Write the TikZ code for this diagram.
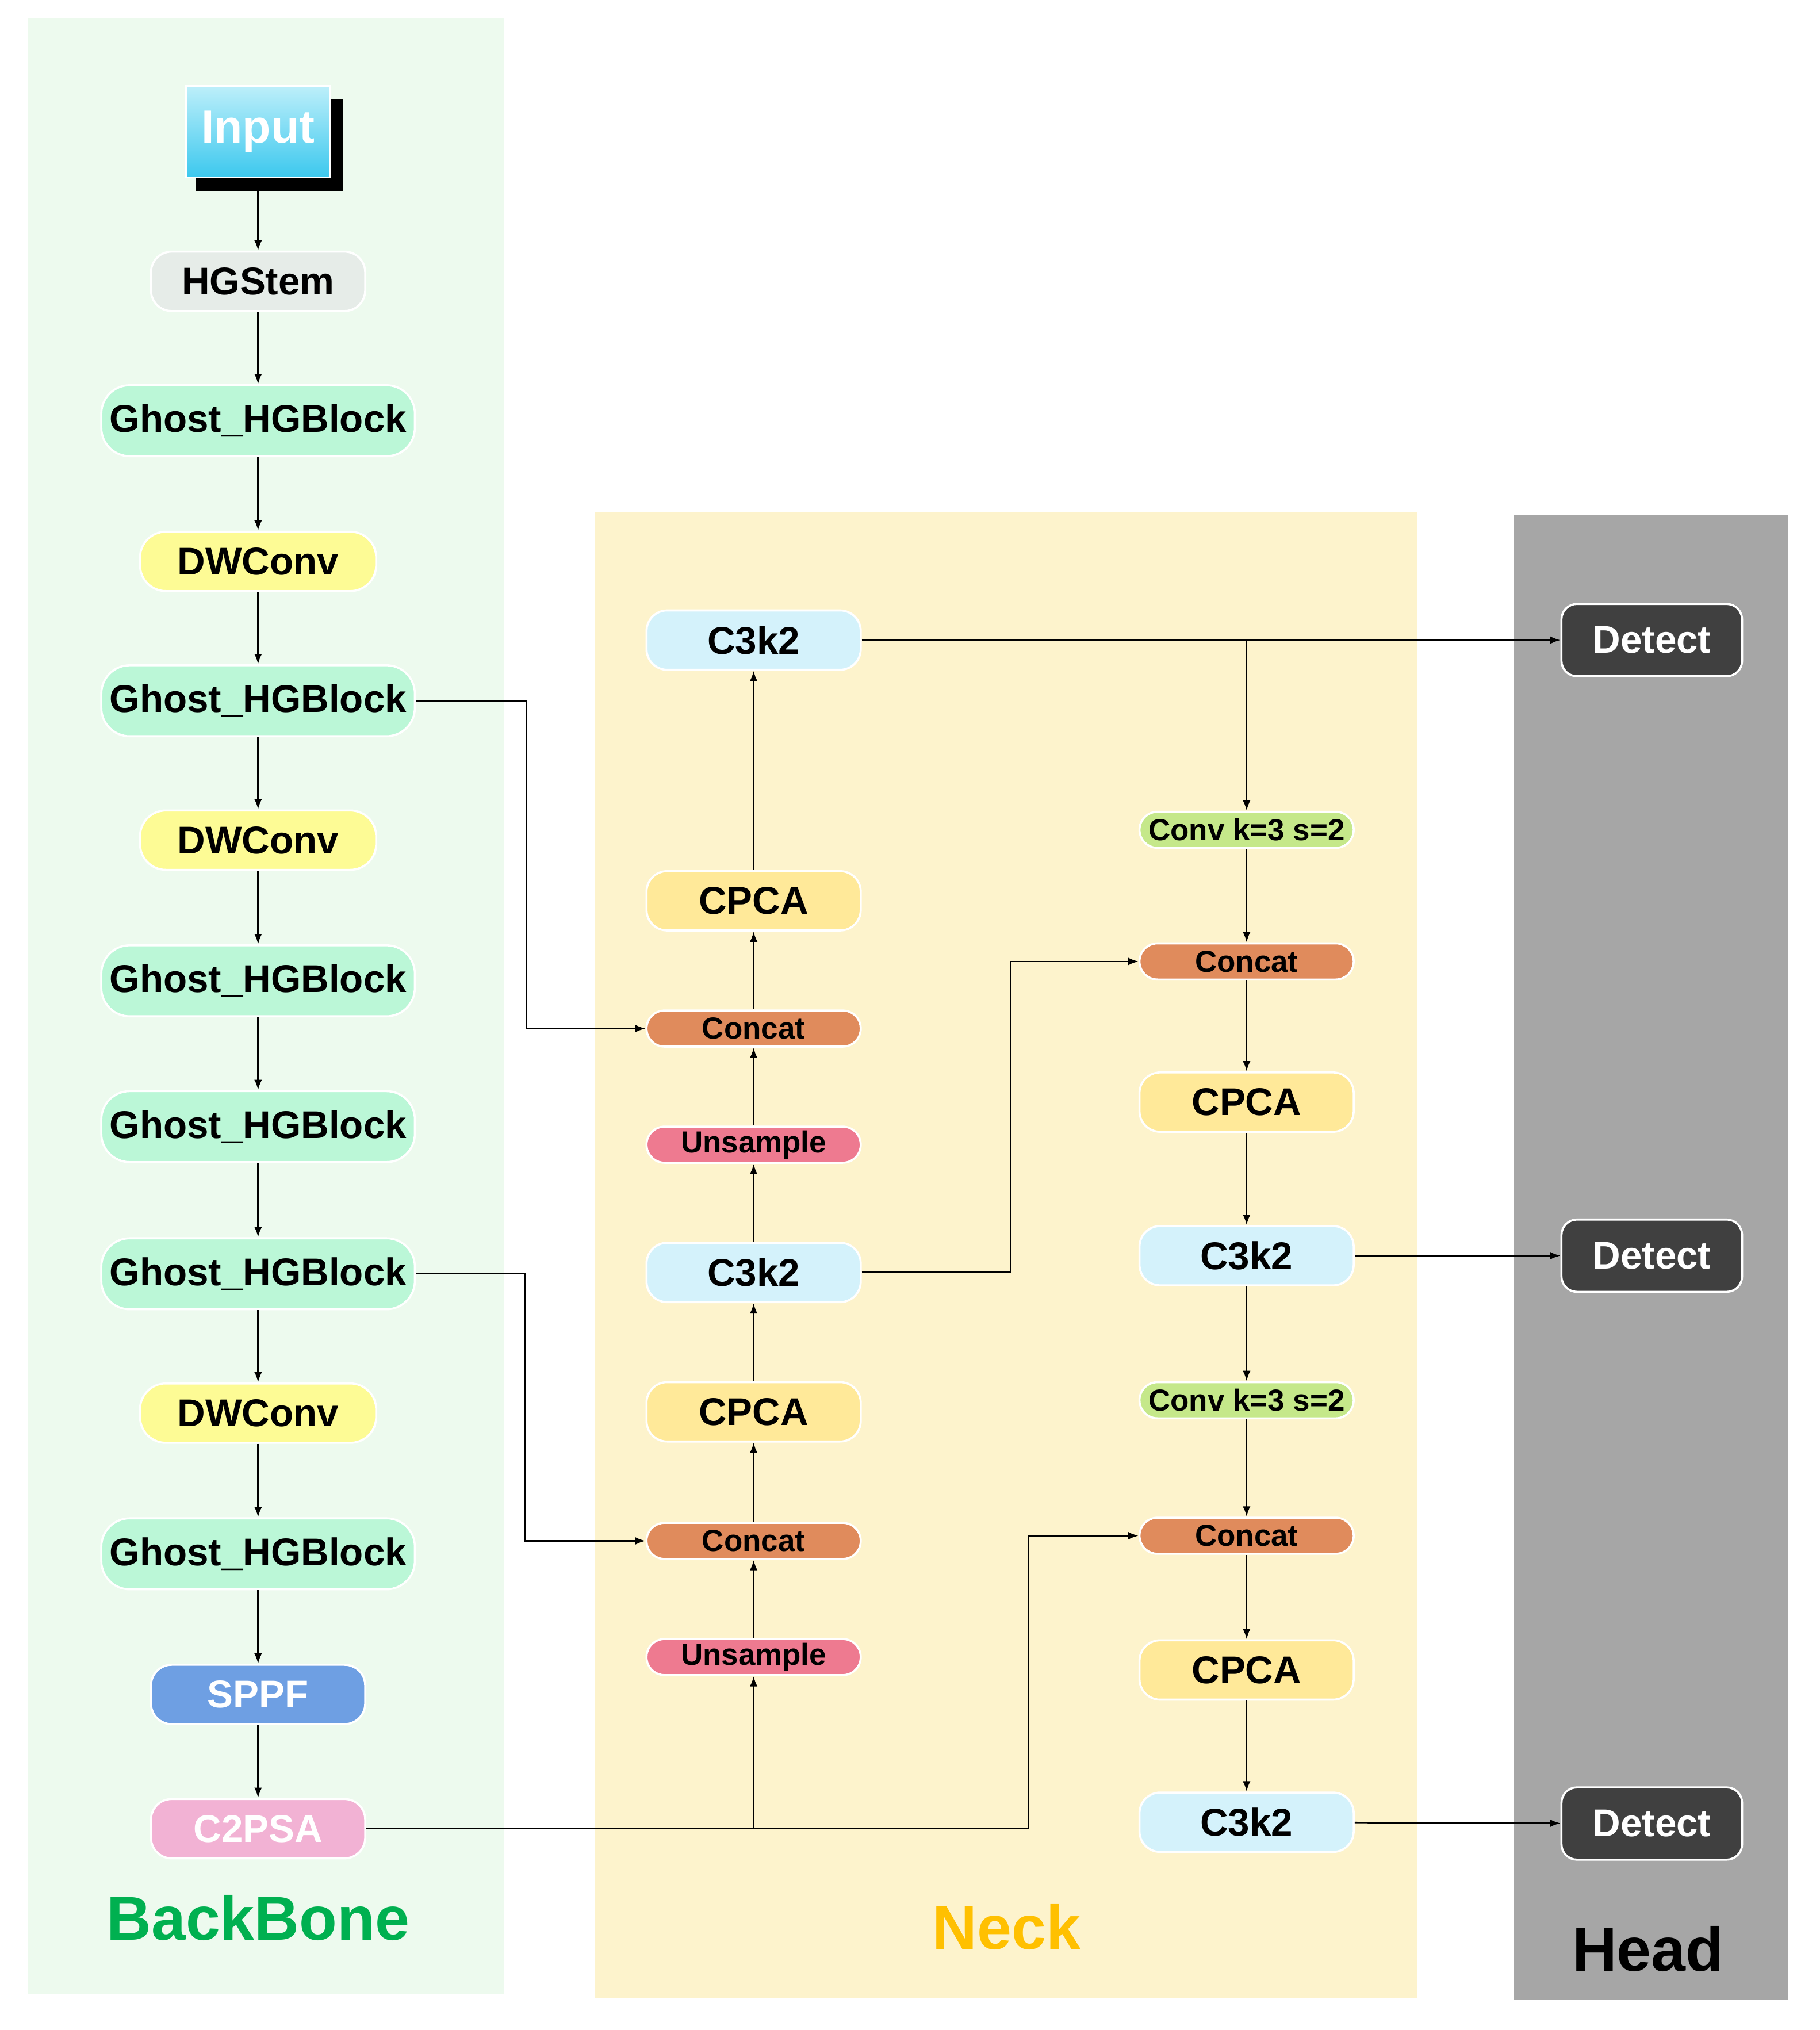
\documentclass[tikz,border=0pt]{standalone}
\usepackage{fontspec}
\setmainfont{Liberation Sans}
\usetikzlibrary{arrows.meta}
\definecolor{bbg}{HTML}{EDFAEE}
\definecolor{nbg}{HTML}{FDF3CC}
\definecolor{hbg}{HTML}{A6A6A6}
\definecolor{cstem}{HTML}{E6ECE8}
\definecolor{cghost}{HTML}{BBF7D7}
\definecolor{cdw}{HTML}{FDFB95}
\definecolor{csppf}{HTML}{6E9FE3}
\definecolor{cpsa}{HTML}{F2B2D4}
\definecolor{cc3}{HTML}{D4F2FB}
\definecolor{ccpca}{HTML}{FFE999}
\definecolor{ccat}{HTML}{E08B5C}
\definecolor{cups}{HTML}{EE7A90}
\definecolor{cconv}{HTML}{C5E88A}
\definecolor{cdet}{HTML}{404040}
\definecolor{cin1}{HTML}{BDEFFA}
\definecolor{cin2}{HTML}{3CC8EE}
\begin{document}
\begin{tikzpicture}[x=0.5pt,y=-0.5pt,
  blk/.style={draw=white,line width=0.8pt,font=\bfseries\fontsize{15}{15}\selectfont,
    inner sep=0pt,rounded corners=8pt},
  big/.style={blk,minimum width=83pt,minimum height=23pt},
  small/.style={blk,minimum width=83pt,minimum height=14pt,rounded corners=7pt,
    font=\bfseries\fontsize{11.8}{12}\selectfont},
  ghost/.style={blk,fill=cghost,minimum width=121.5pt,minimum height=27.5pt,rounded corners=11pt},
  dw/.style={blk,fill=cdw,minimum width=91.5pt,minimum height=23pt,rounded corners=10pt},
  c3/.style={big,fill=cc3},
  cpca/.style={big,fill=ccpca},
  cat/.style={small,fill=ccat},
  ups/.style={small,fill=cups},
  conv/.style={small,fill=cconv},
  det/.style={blk,fill=cdet,text=white,minimum width=70pt,minimum height=28pt,rounded corners=6pt},
  arr/.style={-{Latex[length=4pt,width=3pt]},line width=0.6pt},
  ln/.style={line width=0.6pt},
  lab/.style={font=\bfseries\fontsize{24}{24}\selectfont}]
\useasboundingbox (0,0) rectangle (1410,1573);
\fill[white] (0,0) rectangle (1410,1573);
% panels
\fill[bbg] (22,14) rectangle (391,1545);
\fill[nbg] (461,397) rectangle (1098,1548);
\fill[hbg] (1173,399) rectangle (1386,1550);
% input
\fill[black] (152,77) rectangle (266,148);
\node[draw=white,line width=0.8pt,top color=cin1,bottom color=cin2,minimum width=55.5pt,
  minimum height=35.5pt,text=white,font=\bfseries\fontsize{18}{18}\selectfont] (in) at (200,102) {Input};
% backbone
\node[big,fill=cstem] (stem) at (200,218) {HGStem};
\node[ghost] (g1) at (200,326) {Ghost\_HGBlock};
\node[dw] (d1) at (200,435) {DWConv};
\node[ghost] (g2) at (200,543) {Ghost\_HGBlock};
\node[dw] (d2) at (200,651) {DWConv};
\node[ghost] (g3) at (200,760) {Ghost\_HGBlock};
\node[ghost] (g4) at (200,873) {Ghost\_HGBlock};
\node[ghost] (g5) at (200,987) {Ghost\_HGBlock};
\node[dw] (d3) at (200,1095) {DWConv};
\node[ghost] (g6) at (200,1204) {Ghost\_HGBlock};
\node[big,fill=csppf,text=white] (sppf) at (200,1313) {SPPF};
\node[big,fill=cpsa,text=white] (psa) at (200,1417) {C2PSA};
\node[lab,text={rgb,255:red,0;green,176;blue,80}] (lb) at (200,1486) {BackBone};
\foreach \a/\b in {in/stem,stem/g1,g1/d1,d1/g2,g2/d2,d2/g3,g3/g4,g4/g5,g5/d3,d3/g6,g6/sppf,sppf/psa}
  \draw[arr] (\a) -- (\b);
% neck left
\node[c3] (lc1) at (584,496) {C3k2};
\node[cpca] (lp1) at (584,698) {CPCA};
\node[cat] (lk1) at (584,797) {Concat};
\node[ups] (lu1) at (584,887) {Unsample};
\node[c3] (lc2) at (584,986) {C3k2};
\node[cpca] (lp2) at (584,1094) {CPCA};
\node[cat] (lk2) at (584,1194) {Concat};
\node[ups] (lu2) at (584,1284) {Unsample};
% neck right
\node[conv] (rv1) at (966,643) {Conv k=3 s=2};
\node[cat] (rk1) at (966,745) {Concat};
\node[cpca] (rp1) at (966,854) {CPCA};
\node[c3] (rc1) at (966,973) {C3k2};
\node[conv] (rv2) at (966,1085) {Conv k=3 s=2};
\node[cat] (rk2) at (966,1190) {Concat};
\node[cpca] (rp2) at (966,1294) {CPCA};
\node[c3] (rc2) at (966,1412) {C3k2};
\node[lab,text={rgb,255:red,255;green,192;blue,0}] (ln) at (780,1493) {Neck};
% head
\node[det] (e1) at (1280,496) {Detect};
\node[det] (e2) at (1280,973) {Detect};
\node[det] (e3) at (1280,1413) {Detect};
\node[lab] (lh) at (1277,1510) {Head};
% neck flows
\foreach \a/\b in {lu2/lk2,lk2/lp2,lp2/lc2,lc2/lu1,lu1/lk1,lk1/lp1,lp1/lc1,
  rv1/rk1,rk1/rp1,rp1/rc1,rc1/rv2,rv2/rk2,rk2/rp2,rp2/rc2}
  \draw[arr] (\a) -- (\b);
\coordinate (j1) at (966,496);
\coordinate (j2) at (584,1417);
\draw[arr] (lc1) -- (e1);
\draw[arr] (j1) -- (rv1);
\draw[arr] (rc1) -- (e2);
\draw[arr] (rc2) -- (e3);
\draw[arr] (g2.east) -- (408,543) |- (lk1.west);
\draw[arr] (g5.east) -- (407,987) |- (lk2.west);
\draw[arr] (psa.east) -- (797,1417) |- (rk2.west);
\draw[arr] (j2) -- (lu2);
\draw[arr] (lc2.east) -- (783,986) |- (rk1.west);
\end{tikzpicture}
\end{document}
